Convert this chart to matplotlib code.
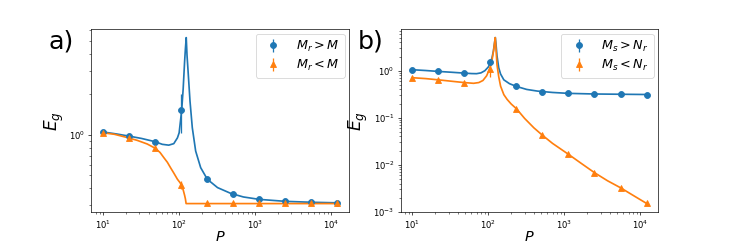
import matplotlib
matplotlib.use("Agg")
import matplotlib.pyplot as plt

# ---------------- data ----------------
P_sim = [10, 22, 48, 106, 234, 515, 1134, 2494, 5488, 12073]

# panel a) simulations
a_hi = [1.047, 0.978, 0.89, 1.52, 0.467, 0.36, 0.334, 0.32, 0.315, 0.312]
a_hi_err = [0.01, 0.01, 0.01, 0.48, 0.01, 0.005, 0.004, 0.003, 0.003, 0.003]
a_lo = [1.035, 0.945, 0.797, 0.424, 0.31, 0.309, 0.309, 0.309, 0.309, 0.309]
a_lo_err = [0.01, 0.01, 0.01, 0.03, 0.004, 0.003, 0.003, 0.003, 0.003, 0.003]

# panel a) theory curves
a_hi_P = [10, 15, 22, 32, 48, 60, 73, 85, 95, 100, 108, 113, 118, 121, 124, 127,
          131, 139, 149, 165, 192, 235, 320, 477, 700, 1134, 2500, 5500, 12073]
a_hi_E = [1.05, 1.015, 0.978, 0.94, 0.89, 0.85, 0.838, 0.86, 0.95, 1.035, 1.52, 2.2,
          3.5, 4.4, 5.29, 3.9, 3.0, 1.78, 1.13, 0.757, 0.57, 0.467, 0.405, 0.367,
          0.345, 0.331, 0.32, 0.315, 0.312]
a_lo_P = [10, 14, 20, 28, 38, 48, 56, 63, 70, 77, 85, 95, 103, 108, 113, 118, 121,
          123.5, 150, 300, 1000, 12073]
a_lo_E = [1.035, 1.01, 0.96, 0.91, 0.855, 0.797, 0.74, 0.676, 0.625, 0.57, 0.52,
          0.467, 0.44, 0.418, 0.39, 0.355, 0.333, 0.308, 0.308, 0.308, 0.308, 0.308]

# panel b) simulations
b_hi = [1.05, 0.966, 0.89, 1.5, 0.463, 0.356, 0.328, 0.318, 0.318, 0.312]
b_hi_err = [0.01, 0.01, 0.01, 0.15, 0.01, 0.005, 0.004, 0.003, 0.003, 0.003]
b_lo = [0.71, 0.64, 0.56, 1.1, 0.155, 0.0425, 0.0167, 0.0068, 0.00325, 0.00151]
b_lo_err = [0.01, 0.01, 0.01, 0.35, 0.004, 0.001, 0.0004, 0.0002, 0.0001, 0.00004]

# panel b) theory curves
b_hi_P = [10, 15, 22, 32, 48, 60, 70, 80, 90, 100, 106, 112, 117, 121, 123.5, 126,
          130, 137, 145, 160, 190, 235, 320, 442, 700, 1134, 2500, 5500, 12073]
b_hi_E = [1.05, 1.01, 0.966, 0.93, 0.89, 0.87, 0.865, 0.9, 1.0, 1.2, 1.45, 1.9, 2.7,
          4.0, 5.06, 3.8, 2.1, 1.16, 0.85, 0.64, 0.53, 0.463, 0.40, 0.369, 0.345,
          0.33, 0.32, 0.316, 0.312]
b_lo_P = [10, 15, 22, 32, 48, 64, 75, 85, 95, 101, 106, 112, 117, 121, 123.5, 126,
          130, 137, 145, 160, 177, 200, 235, 300, 398, 515, 700, 1134, 1700, 2494,
          3700, 5488, 8000, 12073]
b_lo_E = [0.71, 0.68, 0.64, 0.6, 0.56, 0.54, 0.56, 0.62, 0.78, 0.98, 1.2, 1.7, 2.6,
          4.0, 5.06, 3.0, 1.35, 0.75, 0.47, 0.31, 0.245, 0.196, 0.155, 0.097, 0.061,
          0.0425, 0.0285, 0.0167, 0.0105, 0.0068, 0.00458, 0.00325, 0.00225, 0.00151]

labels_a = [r"$M_r > M$", r"$M_r < M$"]
labels_b = [r"$M_s > N_r$", r"$M_s < N_r$"]
panel_tags = ["a)", "b)"]

# ---------------- figure ----------------
fig, axes = plt.subplots(1, 2, figsize=(11.99, 4.0), dpi=61)
fig.subplots_adjust(left=0.125, right=0.9, bottom=0.13, top=0.88, wspace=0.2)

panels = [
    (a_hi_P, a_hi_E, a_lo_P, a_lo_E, a_hi, a_hi_err, a_lo, a_lo_err, labels_a),
    (b_hi_P, b_hi_E, b_lo_P, b_lo_E, b_hi, b_hi_err, b_lo, b_lo_err, labels_b),
]

for ax, tag, (hP, hE, lP, lE, hs, hse, ls, lse, labs) in zip(axes, panel_tags, panels):
    ax.plot(hP, hE, color="C0", lw=2)
    ax.plot(lP, lE, color="C1", lw=2)
    ax.errorbar(P_sim, hs, yerr=hse, fmt="o", color="C0", ms=7, label=labs[0])
    ax.errorbar(P_sim, ls, yerr=lse, fmt="^", color="C1", ms=7, label=labs[1])
    ax.set_xscale("log")
    ax.set_yscale("log")
    ax.set_xlabel(r"$P$", fontsize=17, labelpad=-1)
    ax.set_ylabel(r"$E_g$", fontsize=20)
    ax.legend(loc="upper right", fontsize=15, borderaxespad=0.35,
              labelspacing=0.3)
    ax.text(-0.165, 0.895, tag, transform=ax.transAxes, fontsize=30,
            va="baseline", ha="left")

fig.savefig("out.png", dpi=61)
